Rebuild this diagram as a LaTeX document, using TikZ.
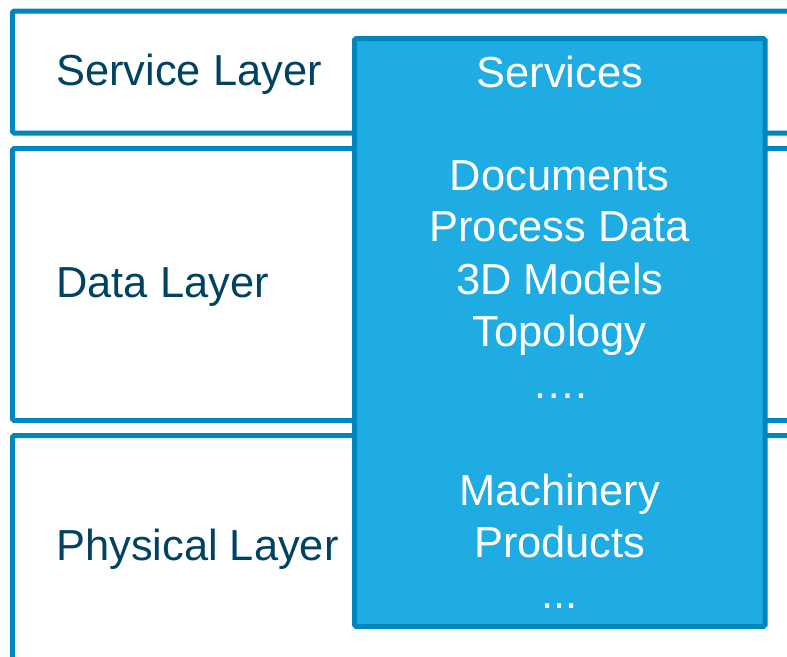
\documentclass[tikz,border=0pt]{standalone}
\usepackage{xcolor}
\usepackage{fontspec}
\usepackage{tikz}
\setmainfont{Liberation Sans}

\definecolor{layerline}{RGB}{0,133,188}
\definecolor{boxfill}{RGB}{31,172,227}
\definecolor{labeltext}{RGB}{0,66,98}

\tikzset{
  layer/.style={draw=layerline, line width=1mm, rounded corners=1pt,
    outer sep=0pt, inner sep=0pt, anchor=north west},
  layerlabel/.style={text=labeltext, inner sep=0pt, anchor=base west,
    font=\fontsize{24.7}{29}\selectfont},
  item/.style={text=white, inner sep=0pt, anchor=base,
    font=\fontsize{24.7}{29}\selectfont}
}

\begin{document}
\begin{tikzpicture}
    \useasboundingbox (0,0) rectangle (15.74,13.12);
    \clip (0,0) rectangle (15.74,13.12);
    % the three layers, cut off at the right
    \node[layer, minimum width=16.75cm, minimum height=2.44cm] (service) at (0.25,12.90) {};
    \node[layer, minimum width=16.75cm, minimum height=5.44cm] (data) at (0.25,10.15) {};
    \node[layer, minimum width=16.75cm, minimum height=5.41cm] (physical) at (0.25,4.41) {};
    \node[layerlabel] (servicelabel) at (1.12,11.42) {Service Layer};
    \node[layerlabel] (datalabel) at (1.12,7.18) {Data Layer};
    \node[layerlabel] (physicallabel) at (1.12,1.92) {Physical Layer};
    % the box across all layers
    \node[layer, fill=boxfill, minimum width=8.21cm, minimum height=11.76cm] (services) at (7.09,12.35) {};
    \node[item] (servtitle) at (11.195,11.38) {Services};
    \node[item] (docs) at (11.195,9.306) {Documents};
    \node[item] (process) at (11.195,8.286) {Process Data};
    \node[item] (models) at (11.195,7.24) {3D Models};
    \node[item] (topo) at (11.195,6.186) {Topology};
    \node[item] (datadots) at (11.195,5.16) {….};
    \node[item] (machinery) at (11.195,3.02) {Machinery};
    \node[item] (products) at (11.195,1.98) {Products};
    \node[item] (physdots) at (11.195,0.96) {...};
\end{tikzpicture}
\end{document}
